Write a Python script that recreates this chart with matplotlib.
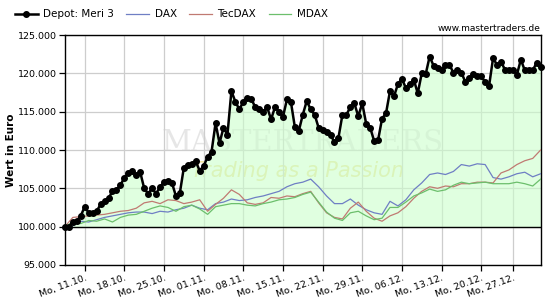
import matplotlib.pyplot as plt
import numpy as np
from matplotlib.ticker import FuncFormatter

# depot value (thousand EUR), two readings per trading day
depot = [
    100.0, 100.0, 100.6, 100.7, 101.4, 102.6, 101.8, 101.8, 102.0, 102.9,
    103.3, 103.7, 104.6, 104.8, 105.4, 106.4, 107.0, 107.2, 106.7, 107.1,
    105.0, 104.3, 105.0, 104.3, 105.2, 105.8, 106.0, 105.7, 104.0, 104.4,
    107.7, 108.1, 108.2, 108.5, 107.3, 107.9, 109.1, 109.8, 113.5, 110.9,
    112.9, 112.0, 117.7, 116.3, 115.3, 116.3, 116.8, 116.7, 115.6, 115.3,
    115.0, 115.6, 114.0, 115.6, 115.0, 114.3, 116.6, 116.3, 113.0, 112.5,
    114.6, 116.4, 115.3, 114.6, 112.9, 112.6, 112.4, 112.0, 111.0, 111.6,
    114.6, 114.6, 115.6, 116.1, 114.4, 116.1, 113.4, 112.9, 111.2, 111.3,
    114.1, 114.8, 117.7, 117.0, 118.6, 119.3, 118.1, 118.6, 119.2, 117.4,
    120.0, 119.9, 122.2, 121.0, 120.7, 120.5, 121.1, 121.1, 120.1, 120.4,
    120.1, 118.9, 119.4, 119.9, 119.7, 119.6, 118.9, 118.4, 122.0, 121.1,
    121.5, 120.5, 120.5, 120.5, 119.8, 121.8, 120.4, 120.4, 120.4, 121.4,
    120.8,
]

# benchmarks rebased to the depot start, one reading per trading day
dax = [
    100.0, 100.1, 100.7, 100.6, 100.9, 101.2, 101.4, 101.6, 101.8, 101.9,
    101.9, 101.7, 102.0, 101.9, 102.2, 102.4, 102.8, 102.4, 102.2, 103.0,
    103.2, 103.6, 103.4, 103.5, 103.8, 104.0, 104.3, 104.6, 105.2, 105.6,
    105.8, 106.2, 105.2, 104.0, 103.0, 103.0, 103.6, 102.8, 102.2, 101.8,
    101.6, 103.3, 102.7, 103.5, 104.8, 105.7, 106.8, 107.0, 106.8, 107.2,
    108.1, 107.9, 108.2, 108.1, 106.4, 106.2, 106.5, 106.9, 107.1, 106.5,
    106.9,
]
tecdax = [
    100.0, 101.2, 101.3, 101.4, 101.5, 101.6, 101.8, 102.0, 102.1, 102.4,
    103.1, 103.3, 103.0, 103.5, 103.4, 103.0, 103.2, 103.5, 102.0, 102.9,
    103.7, 104.8, 104.2, 103.1, 102.9, 103.1, 103.8, 103.7, 104.0, 103.9,
    104.3, 104.6, 103.1, 101.8, 101.2, 101.0, 102.4, 103.2, 102.0, 101.1,
    100.7, 101.4, 101.8, 102.6, 103.7, 104.6, 105.2, 105.0, 105.3, 105.2,
    105.6, 105.6, 105.8, 105.8, 105.7, 107.0, 107.4, 108.1, 108.6, 108.9,
    110.0,
]
mdax = [
    100.0, 100.6, 100.4, 100.8, 100.7, 101.0, 100.6, 101.2, 101.5, 101.6,
    102.0, 102.4, 102.7, 102.5, 102.0, 102.6, 102.8, 102.3, 101.6, 102.6,
    102.8, 103.0, 103.0, 102.8, 102.7, 103.0, 103.2, 103.5, 103.6, 103.8,
    104.2, 104.5, 103.2, 101.9, 101.1, 100.8, 101.8, 102.0, 101.4, 100.9,
    101.1, 102.5, 102.5, 103.2, 104.0, 104.4, 104.9, 104.6, 104.8, 105.4,
    105.8, 105.6, 105.7, 105.8, 105.6, 105.6, 105.6, 105.8, 105.6, 105.3,
    106.2,
]

tick_pos = [5, 15, 25, 35, 45, 55, 65, 75, 85, 95, 105, 113]
tick_labels = ["Mo, 11.10.", "Mo, 18.10.", "Mo, 25.10.", "Mo, 01.11.",
               "Mo, 08.11.", "Mo, 15.11.", "Mo, 22.11.", "Mo, 29.11.",
               "Mo, 06.12.", "Mo, 13.12.", "Mo, 20.12.", "Mo, 27.12."]

plt.rcParams["font.family"] = "DejaVu Sans"

x_dep = np.arange(len(depot))
x_idx = np.arange(len(dax)) * 2
dep = np.array(depot) * 1000

fig = plt.figure(figsize=(5.5, 3.0), dpi=100)
ax = fig.add_axes([0.118, 0.117, 0.865, 0.766])

ax.set_xlim(0, len(depot) - 1)
ax.set_ylim(95000, 125000)
ax.set_yticks(np.arange(95000, 125001, 5000))
ax.yaxis.set_major_formatter(FuncFormatter(lambda v, _: f"{v:,.0f}".replace(",", ".")))
ax.set_xticks(tick_pos)
ax.set_xticklabels(tick_labels, rotation=20, ha="right", rotation_mode="anchor")
ax.grid(True, color="#cdcdcd", lw=0.9, zorder=0)
ax.tick_params(labelsize=6.8, length=4, width=0.9, direction="out", pad=2)
for s in ax.spines.values():
    s.set_linewidth(1.0)

# watermark
ax.text(0.50, 0.53, "MASTERTRADERS", transform=ax.transAxes, ha="center", va="center",
        fontsize=21, family="DejaVu Serif", color="#e6e6e6", zorder=1)
ax.text(0.49, 0.41, "Trading as a Passion", transform=ax.transAxes, ha="center",
        va="center", fontsize=15, style="italic", color="#eee08c", alpha=0.85, zorder=1)

ax.fill_between(x_dep, 100000, dep, color="#ccffcc", alpha=0.6, lw=0, zorder=2)
ax.axhline(100000, color="black", lw=1.0, zorder=3)

ax.plot(x_idx, np.array(dax) * 1000, color="#6f7fc4", lw=0.9, label="DAX", zorder=4)
ax.plot(x_idx, np.array(tecdax) * 1000, color="#c07a72", lw=0.9, label="TecDAX", zorder=4)
ax.plot(x_idx, np.array(mdax) * 1000, color="#6cbf6c", lw=0.9, label="MDAX", zorder=4)
ax.plot(x_dep, dep, color="black", lw=1.8, marker="o", markersize=4,
        label="Depot: Meri 3", zorder=5, clip_on=False)

ax.set_ylabel("Wert in Euro", fontsize=7.5, fontweight="bold", labelpad=1)

handles, labels = ax.get_legend_handles_labels()
order = [3, 0, 1, 2]
fig.legend([handles[i] for i in order], [labels[i] for i in order],
           loc="upper left", bbox_to_anchor=(0.01, 1.0), ncol=4, frameon=False,
           fontsize=7.5, handlelength=2.2, columnspacing=1.2, handletextpad=0.5)

fig.text(0.983, 0.905, "www.mastertraders.de", ha="right", va="center", fontsize=6.5)

fig.savefig("out.png", dpi=100)
